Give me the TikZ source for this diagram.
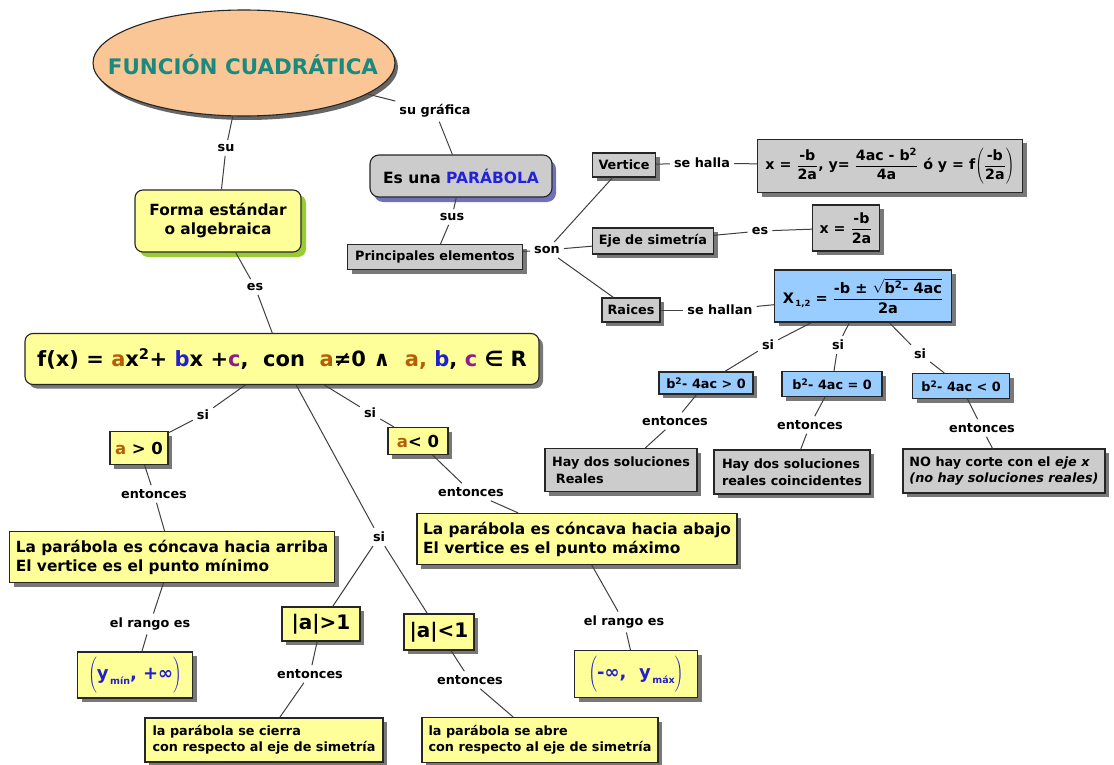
\documentclass[tikz,border=0pt]{standalone}
\usepackage{fontspec}
\setmainfont{DejaVu Sans}
\usetikzlibrary{shadows,shapes.geometric}
\definecolor{yfill}{HTML}{FFFF99}
\definecolor{gfill}{HTML}{CCCCCC}
\definecolor{bfill}{HTML}{99CCFF}
\definecolor{peach}{HTML}{FAC695}
\definecolor{titleteal}{HTML}{1A8A7E}
\definecolor{ca}{HTML}{B45F06}
\definecolor{cb}{HTML}{2020CC}
\definecolor{cc}{HTML}{8E1C8C}
\definecolor{parblue}{HTML}{2222DD}
\definecolor{shgreen}{HTML}{99CC33}
\definecolor{shblue}{HTML}{6262B4}
\newcommand\fr[2]{\ensuremath{\displaystyle\frac{\hbox{#1}}{\hbox{#2}}}}
\begin{document}
\begin{tikzpicture}[x=1pt,y=-1pt,
  shad/.style={drop shadow={shadow xshift=4pt,shadow yshift=-4pt,fill=black!70,opacity=0.75}},
  basebox/.style={draw=black!85,line width=1.1pt,inner xsep=4pt,inner ysep=3pt,align=left},
  box/.style={basebox,shad,font=\bfseries\fontsize{12.8}{16.5}\selectfont},
  ybox/.style={box,fill=yfill},
  gbox/.style={box,fill=gfill},
  bbox/.style={box,fill=bfill},
  big/.style={font=\bfseries\fontsize{15.4}{19}\selectfont},
  sz/.style 2 args={minimum width=#1pt,minimum height=#2pt},
  lab/.style={font=\bfseries\fontsize{12.8}{15}\selectfont,inner sep=4pt},
  link/.style={draw=black!75,line width=1pt}
]
\fill[white] (0,0) rectangle (1114,765);
\useasboundingbox (0,0) rectangle (1114,765);

% title
\node[ellipse,draw=black!85,line width=1.1pt,fill=peach,sz={302}{106},inner sep=0pt,
  drop shadow={shadow xshift=3pt,shadow yshift=-4pt,fill=black!75,opacity=0.8}] (title) at (244,63) {};
\node[font=\bfseries\fontsize{21.4}{25}\selectfont,text=titleteal] (titletext) at (243,65) {FUNCIÓN CUADRÁTICA};

% left top
\node[lab] (su) at (226,148) {su};
\node[basebox,fill=yfill,rounded corners=8pt,sz={166}{62},align=center,big,
  drop shadow={shadow xshift=5pt,shadow yshift=-5pt,fill=shgreen,opacity=1}] (forma) at (218,221) {Forma estándar\\o algebraica};
\node[lab] (es) at (255,287) {es};
\node[basebox,fill=yfill,rounded corners=8pt,sz={514}{51},shad,
  font=\bfseries\fontsize{21}{25}\selectfont] (main) at (282,359)
  {f(x) = \textcolor{ca}{a}x\textsuperscript{2}+ \textcolor{cb}{b}x +\textcolor{cc}{c},\ \ con\ \ \textcolor{ca}{a}≠0 ∧\ \ \textcolor{ca}{a,} \textcolor{cb}{b}, \textcolor{cc}{c} ∈ R};

% parabola branch
\node[lab] (sugr) at (435,111) {su gráfica};
\node[basebox,fill=gfill,rounded corners=9pt,sz={182}{42},
  font=\bfseries\fontsize{15.5}{19}\selectfont,
  drop shadow={shadow xshift=4pt,shadow yshift=-5pt,fill=shblue,opacity=0.9}] (parab) at (461,176) {Es una \textcolor{parblue}{PARÁBOLA}};
\node[lab] (sus) at (452,217) {sus};
\node[gbox,sz={175}{25}] (princ) at (435,257) {Principales elementos};
\node[lab] (son) at (547,250) {son};
\node[gbox,sz={63}{24}] (vert) at (624,165) {Vertice};
\node[lab] (sehalla) at (702,163) {se halla};
\node[gbox,sz={265}{53},font=\bfseries\fontsize{14.2}{17}\selectfont] (vform) at (890,166)
  {x = \fr{-b}{2a}, y= \fr{4ac - b\textsuperscript{2}}{4a} ó y = f$\left(\fr{-b}{2a}\right)$};
\node[gbox,sz={121}{26}] (eje) at (653,241) {Eje de simetría};
\node[lab] (es2) at (760,231) {es};
\node[gbox,sz={67}{46},font=\bfseries\fontsize{14.2}{17}\selectfont] (xb) at (846,228) {x = \fr{-b}{2a}};
\node[gbox,sz={58}{24}] (raices) at (631,310) {Raices};
\node[lab] (sehallan) at (720,310) {se hallan};
\node[bbox,sz={177}{52},font=\bfseries\fontsize{14.5}{17}\selectfont] (roots) at (863,296)
  {X\raisebox{-3pt}{\fontsize{8.5}{8.5}\selectfont\,1,2}\ = \fr{-b ± $\sqrt{\hbox{b\textsuperscript{2}- 4ac}}$}{2a}};

\node[lab] (si1) at (768,345) {si};
\node[lab] (si2) at (838,345) {si};
\node[lab] (si3) at (920,354) {si};
\node[bbox,sz={94}{22}] (d1) at (706,383) {b\textsuperscript{2}- 4ac > 0};
\node[bbox,sz={100}{25}] (d2) at (832,384) {b\textsuperscript{2}- 4ac = 0};
\node[bbox,sz={97}{25}] (d3) at (961,386) {b\textsuperscript{2}- 4ac < 0};
\node[lab] (ent1) at (675,421) {entonces};
\node[lab] (ent2) at (810,425) {entonces};
\node[lab] (ent3) at (982,428) {entonces};
\node[gbox,sz={152}{43}] (r1) at (621,470) {Hay dos soluciones\\\hspace{0.3em}Reales};
\node[gbox,sz={156}{44}] (r2) at (792,472) {Hay dos soluciones\\reales coincidentes};
\node[gbox,sz={202}{44}] (r3) at (1004,471) {NO hay corte con el \textit{eje x}\\\textit{(no hay soluciones reales)}};

% a > 0 branch
\node[lab] (sil) at (203,415) {si};
\node[ybox,sz={58}{33},font=\bfseries\fontsize{16.5}{19}\selectfont] (agt) at (139,448) {\textcolor{ca}{a} > 0};
\node[lab] (entl) at (154,494) {entonces};
\node[ybox,big,sz={325}{51}] (up) at (172,557) {La parábola es cóncava hacia arriba\\El vertice es el punto mínimo};
\node[lab] (rangol) at (150,624) {el rango es};
\node[ybox,sz={115}{46},text=cb,font=\bfseries\fontsize{18}{21}\selectfont] (ymin) at (135,675)
  {$\left(\rule[-13pt]{0pt}{36pt}\hbox{y\raisebox{-5pt}{\fontsize{9.5}{9.5}\selectfont\,mín}, +∞}\right)$};

% a < 0 branch
\node[lab] (sir) at (370,413) {si};
\node[ybox,sz={60}{27},font=\bfseries\fontsize{16.5}{19}\selectfont] (alt) at (418,441) {\textcolor{ca}{a}< 0};
\node[lab] (entr) at (471,492) {entonces};
\node[ybox,big,sz={320}{51}] (down) at (577,539) {La parábola es cóncava hacia abajo\\El vertice es el punto máximo};
\node[lab] (rangor) at (624,622) {el rango es};
\node[ybox,sz={123}{47},text=cb,font=\bfseries\fontsize{18}{21}\selectfont] (ymax) at (636,674)
  {$\left(\rule[-13pt]{0pt}{36pt}\hbox{-∞,\ \ y\raisebox{-5pt}{\fontsize{9.5}{9.5}\selectfont\,máx}}\right)$};

% |a| branch
\node[lab] (sim) at (379,537) {si};
\node[ybox,sz={78}{34},font=\bfseries\fontsize{20}{23}\selectfont] (a1) at (321,624) {|a|>1};
\node[ybox,sz={70}{36},font=\bfseries\fontsize{20}{23}\selectfont] (a2) at (439,632) {|a|<1};
\node[lab] (entm1) at (310,674) {entonces};
\node[lab] (entm2) at (470,680) {entonces};
\node[ybox,sz={238}{44}] (cierra) at (264,740) {la parábola se cierra\\con respecto al eje de simetría};
\node[ybox,sz={236}{45}] (abre) at (540,740) {la parábola se abre\\con respecto al eje de simetría};

% connectors
\draw[link] (title) -- (su);  \draw[link] (su) -- (forma);
\draw[link] (forma) -- (es);  \draw[link] (es) -- (main);
\draw[link] (title) -- (sugr); \draw[link] (sugr) -- (parab);
\draw[link] (parab) -- (sus); \draw[link] (sus) -- (princ);
\draw[link] (princ) -- (son);
\draw[link] (son) -- (vert); \draw[link] (son) -- (eje); \draw[link] (son) -- (raices);
\draw[link] (vert) -- (sehalla); \draw[link] (sehalla) -- (vform);
\draw[link] (eje) -- (es2); \draw[link] (es2) -- (xb);
\draw[link] (raices) -- (sehallan); \draw[link] (sehallan) -- (roots);
\draw[link] (roots) -- (si1); \draw[link] (si1) -- (d1);
\draw[link] (roots) -- (si2); \draw[link] (si2) -- (d2);
\draw[link] (roots) -- (si3); \draw[link] (si3) -- (d3);
\draw[link] (d1) -- (ent1); \draw[link] (ent1) -- (r1);
\draw[link] (d2) -- (ent2); \draw[link] (ent2) -- (r2);
\draw[link] (d3) -- (ent3); \draw[link] (ent3) -- (r3);
\draw[link] (main) -- (sil); \draw[link] (sil) -- (agt);
\draw[link] (agt) -- (entl); \draw[link] (entl) -- (up);
\draw[link] (up) -- (rangol); \draw[link] (rangol) -- (ymin);
\draw[link] (main) -- (sir); \draw[link] (sir) -- (alt);
\draw[link] (alt) -- (entr); \draw[link] (entr) -- (down);
\draw[link] (down) -- (rangor); \draw[link] (rangor) -- (ymax);
\draw[link] (main) -- (sim); \draw[link] (sim) -- (a1); \draw[link] (sim) -- (a2);
\draw[link] (a1) -- (entm1); \draw[link] (entm1) -- (cierra);
\draw[link] (a2) -- (entm2); \draw[link] (entm2) -- (abre);
\end{tikzpicture}
\end{document}
